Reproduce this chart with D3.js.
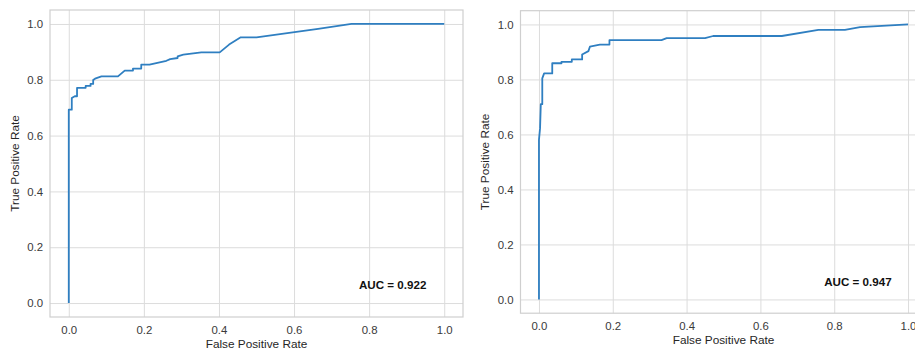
<!DOCTYPE html>
<head>
  <meta charset="utf-8" />
  <script src="https://d3js.org/d3.v7.min.js"></script>
  <style>
    body {
      margin: 0;
      background: #fff;
      overflow: hidden;
    }
    text {
      font-family: "Liberation Sans", Arial, sans-serif;
      fill: #262626;
    }
    .grid line {
      stroke: #dcdcdc;
      stroke-width: 1;
    }
    .grid .domain {
      display: none;
    }
    .grid text {
      font-size: 11.4px;
      fill: #3a3a3a;
    }
  </style>
</head>

<body>
  <script>
    // roc curve corners, [fpr, tpr]
    var leftFpr = [0, 0, 0.008, 0.008, 0.016, 0.022, 0.022, 0.045, 0.045, 0.058, 0.058, 0.065, 0.065, 0.07, 0.087, 0.131, 0.149, 0.171, 0.171, 0.193, 0.193, 0.215, 0.26, 0.27, 0.29, 0.29, 0.305, 0.353, 0.402, 0.427, 0.458, 0.5, 0.664, 0.753, 1];
    var leftTpr = [0, 0.693, 0.693, 0.735, 0.741, 0.741, 0.771, 0.771, 0.778, 0.778, 0.785, 0.785, 0.799, 0.804, 0.812, 0.812, 0.833, 0.833, 0.84, 0.84, 0.854, 0.854, 0.868, 0.874, 0.878, 0.884, 0.89, 0.898, 0.898, 0.926, 0.952, 0.952, 0.982, 1, 1];

    var rightFpr = [0, 0, 0.003, 0.005, 0.009, 0.009, 0.014, 0.036, 0.036, 0.061, 0.061, 0.089, 0.089, 0.117, 0.117, 0.134, 0.138, 0.165, 0.191, 0.191, 0.332, 0.346, 0.45, 0.472, 0.658, 0.757, 0.829, 0.87, 1];
    var rightTpr = [0, 0.58, 0.623, 0.71, 0.71, 0.804, 0.822, 0.822, 0.859, 0.859, 0.864, 0.864, 0.873, 0.873, 0.891, 0.903, 0.919, 0.927, 0.927, 0.943, 0.943, 0.95, 0.95, 0.958, 0.958, 0.98, 0.98, 0.99, 1];

    var aucLabels = ["AUC = 0.922", "AUC = 0.947"];
    var ticks = [0, 0.2, 0.4, 0.6, 0.8, 1.0];
    var xTitle = "False Positive Rate";
    var yTitle = "True Positive Rate";

    var svg = d3
      .select("body")
      .append("svg")
      .attr("width", 915)
      .attr("height", 351);

    var panels = [
      { left: 50, top: 10, width: 413, height: 307, fpr: leftFpr, tpr: leftTpr, auc: aucLabels[0], titleY: 347.5, ylabX: 15 },
      { left: 520.5, top: 10.7, width: 406, height: 302.5, fpr: rightFpr, tpr: rightTpr, auc: aucLabels[1], titleY: 344, ylabX: 485 }
    ];

    panels.forEach(function(p) {
      var g = svg
        .append("g")
        .attr("transform", "translate(" + p.left + "," + p.top + ")");

      var x = d3.scaleLinear().domain([-0.05, 1.05]).range([0, p.width]);
      var y = d3.scaleLinear().domain([-0.05, 1.05]).range([p.height, 0]);

      g.append("g")
        .attr("class", "grid")
        .attr("transform", "translate(0," + p.height + ")")
        .call(
          d3.axisBottom(x)
            .tickValues(ticks)
            .tickFormat(d3.format(".1f"))
            .tickSizeInner(-p.height)
            .tickSizeOuter(0)
            .tickPadding(9)
        );

      g.append("g")
        .attr("class", "grid")
        .call(
          d3.axisLeft(y)
            .tickValues(ticks)
            .tickFormat(d3.format(".1f"))
            .tickSizeInner(-p.width)
            .tickSizeOuter(0)
            .tickPadding(7)
        );

      g.append("rect")
        .attr("width", p.width)
        .attr("height", p.height)
        .attr("fill", "none")
        .attr("stroke", "#cfcfcf")
        .attr("stroke-width", 1.2);

      var pts = d3.zip(p.fpr, p.tpr);
      g.append("path")
        .datum(pts)
        .attr("fill", "none")
        .attr("stroke", "#2f7fc1")
        .attr("stroke-width", 1.8)
        .attr("stroke-linejoin", "round")
        .attr("d", d3.line().x(d => x(d[0])).y(d => y(d[1])));

      g.append("text")
        .attr("x", x(0.773))
        .attr("y", y(0.064))
        .attr("dy", "0.35em")
        .style("font-size", "11.6px")
        .style("font-weight", "bold")
        .style("fill", "#111")
        .text(p.auc);

      svg.append("text")
        .attr("x", p.left + p.width / 2)
        .attr("y", p.titleY)
        .attr("text-anchor", "middle")
        .style("font-size", "11.8px")
        .text(xTitle);

      svg.append("text")
        .attr("transform", "translate(" + p.ylabX + "," + (p.top + p.height / 2) + ") rotate(-90)")
        .attr("text-anchor", "middle")
        .attr("dy", "0.35em")
        .style("font-size", "11.8px")
        .text(yTitle);
    });
  </script>
</body>
